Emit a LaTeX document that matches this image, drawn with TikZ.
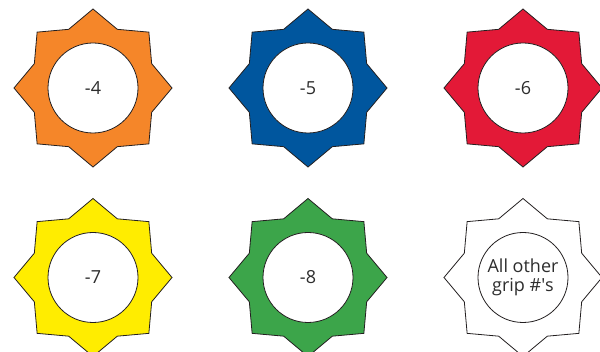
\documentclass[tikz,border=0pt]{standalone}
\usepackage{fontspec}
\setmainfont{Open Sans}
\usetikzlibrary{shapes.geometric}
\definecolor{cOrange}{RGB}{245,134,41}
\definecolor{cBlue}{RGB}{0,86,158}
\definecolor{cRed}{RGB}{227,25,55}
\definecolor{cYellow}{RGB}{255,237,0}
\definecolor{cGreen}{RGB}{60,165,74}
\definecolor{cLine}{RGB}{35,31,32}
\definecolor{cText}{RGB}{45,45,45}
\tikzset{
  gripstar/.style={star, star points=8, star point ratio=1.244, minimum size=158pt,
    inner sep=0pt, outer sep=0pt, draw=cLine, line width=0.8pt, fill=#1},
  gripdisc/.style={circle, minimum size=90pt, inner sep=0pt, draw=cLine, line width=0.8pt,
    fill=white, text=cText, font=\fontsize{18}{19.5}\selectfont, align=center}
}
\begin{document}
\begin{tikzpicture}[x=1pt,y=-1pt]
\useasboundingbox (0,0) rectangle (600,352);
\clip (0,0) rectangle (600,352);
\node[gripstar=cOrange] (s4) at (93,88) {};
\node[gripdisc] (c4) at (s4.center) {-4};
\node[gripstar=cBlue] (s5) at (308,88) {};
\node[gripdisc] (c5) at (s5.center) {-5};
\node[gripstar=cRed] (s6) at (523,88) {};
\node[gripdisc] (c6) at (s6.center) {-6};
\node[gripstar=cYellow] (s7) at (93,277.5) {};
\node[gripdisc] (c7) at (s7.center) {-7};
\node[gripstar=cGreen] (s8) at (308,277.5) {};
\node[gripdisc] (c8) at (s8.center) {-8};
\node[gripstar=white] (so) at (523,277.5) {};
\node[gripdisc] (co) at (so.center) {All other\\grip \#\textquotesingle s};
\end{tikzpicture}
\end{document}
